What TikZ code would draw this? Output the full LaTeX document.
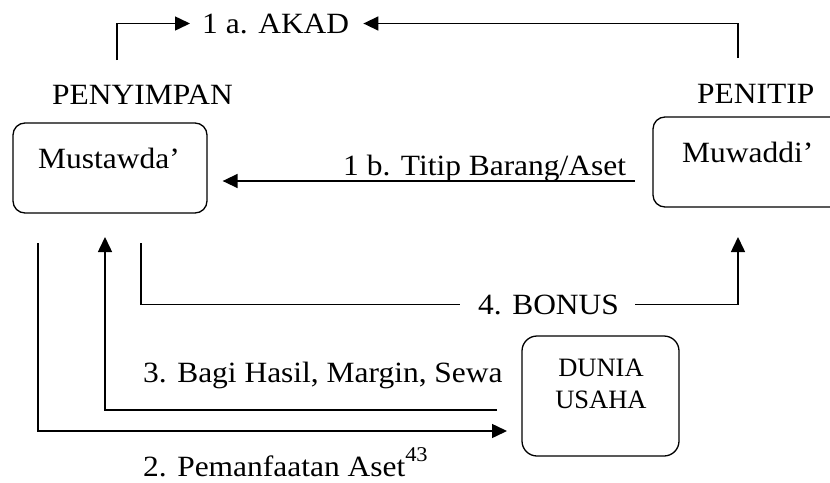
\documentclass[tikz,border=0pt]{standalone}
\usepackage{fontspec}
\setmainfont{Liberation Serif}
\usepackage{graphicx}
\usetikzlibrary{arrows.meta}
\newcommand\sx[1]{\scalebox{1.07}[1]{#1}}
\begin{document}
\begin{tikzpicture}[x=1pt,y=-1pt,
  lbl/.style={inner sep=0pt, anchor=base west, font=\fontsize{29.4}{34}\selectfont},
  boxnode/.style={draw, line width=1.3pt, rounded corners=12pt, inner sep=0pt},
  conn/.style={line width=1.5pt},
  arr/.style={line width=1.5pt, -{Triangle[length=15pt,width=14pt]}}]
\clip (0,0) rectangle (830,482);
\fill[white] (0,0) rectangle (830,482);
% boxes
\node[boxnode, minimum width=194pt, minimum height=90pt] (mus) at (110,168) {};
\node[boxnode, minimum width=192pt, minimum height=90pt] (muw) at (749,162) {};
\node[boxnode, rounded corners=15pt, minimum width=157pt, minimum height=120pt] (dun) at (600.5,396) {};
% texts
\node[lbl] (akad) at (202,33) {\sx{1 a.\hspace{10pt}AKAD}};
\node[lbl] (penyimpan) at (52,104) {\sx{PENYIMPAN}};
\node[lbl] (penitip) at (697,103) {\sx{PENITIP}};
\node[lbl] (mustxt) at (38,168) {\sx{Mustawda’}};
\node[lbl] (muwtxt) at (682,162) {\sx{Muwaddi’}};
\node[lbl] (titip) at (343,175) {\sx{1 b. Titip Barang/Aset}};
\node[lbl] (bonus) at (478,314) {\sx{4. BONUS}};
\node[lbl] (bagi) at (143,382) {\sx{3. Bagi Hasil, Margin, Sewa}};
\node[lbl] (pem) at (143,476) {\sx{2. Pemanfaatan Aset\raisebox{15pt}{\fontsize{21}{21}\selectfont 43}}};
\node[inner sep=0pt, align=center, font=\fontsize{26.5}{32}\selectfont] (duntxt) at (601,383.5) {DUNIA\\USAHA};
% coordinates
\coordinate (akL) at (117,60);
\coordinate (akR) at (738,58);
\coordinate (b1s) at (635,181);
\coordinate (bonL) at (141,243);
\coordinate (bonR) at (738,237);
\coordinate (b3s) at (497,410);
\coordinate (b3e) at (105,237);
\coordinate (b2s) at (38,243);
\coordinate (b2e) at (507,431);
% connectors
\draw[arr] (akL) |- ([xshift=-12pt]akad.west);
\draw[arr] (akR) |- ([xshift=14pt]akad.east);
\draw[arr] (b1s) -- ([xshift=15pt]mus.east |- b1s);
\draw[conn] (bonL) |- ([xshift=-18pt]bonus.west);
\draw[arr] ([xshift=16pt]bonus.east) -| (bonR);
\draw[arr] (b3s) -| (b3e);
\draw[arr] (b2s) |- (b2e);
\end{tikzpicture}
\end{document}
